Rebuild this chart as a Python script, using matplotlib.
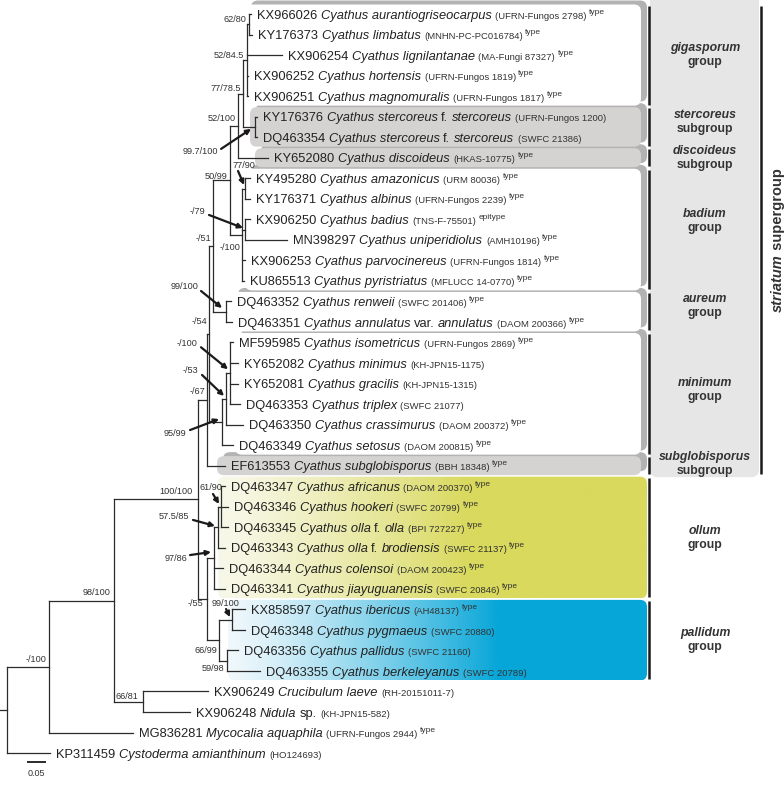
#!/usr/bin/python3
# -*- coding: utf-8 -*-

import numpy as np
import matplotlib
matplotlib.use("Agg")
import matplotlib.pyplot as plt
from matplotlib.patches import FancyBboxPatch
from matplotlib.collections import LineCollection
from matplotlib.colors import to_rgb

plt.rcParams["font.family"] = ["Liberation Sans", "DejaVu Sans"]

# ---------------- data ----------------
# tree (newick), branch lengths in subst./site, node labels = BI/ML support
gig = ("((KX966026:0.0053,KY176373:0.0079)62/80:0.0053,"
       "KX906254:0.0921,KX906252:0.0026,KX906251:0.0026)52/84.5:0.0105")
ste = "(KY176376:0.0053,DQ463354:0.0053)99.7/100:0.0316"
bad = ("((KY495280:0.0132,KY176371:0.0132)77/90:0.0079,"
       "(KX906250:0.0132,MN398297:0.1105)-/79:0.0079,"
       "KX906253:0.0079,KU865513:0.0053)-/100:0.0316")
aur = "(DQ463352:0.0132,DQ463351:0.0158)99/100:0.0342"
mnm = ("(((MF595985:0.0079,KY652082:0.0211,KY652081:0.0211,DQ463353:0.0263)-/100:0.0105,"
       "DQ463350:0.0447)-/53:0.0105,DQ463349:0.0289)95/99:0.0342")
oll = ("(((DQ463347:0.0105,DQ463346:0.0184,DQ463345:0.0184)61/90:0.0079,"
       "DQ463343:0.0184)57.5/85:0.0105,DQ463344:0.0237,DQ463341:0.0289)97/86:0.0184")
pal = ("((KX858597:0.0342,DQ463348:0.0342)99/100:0.0342,"
       "(DQ463356:0.0289,DQ463355:0.0868)59/98:0.0211)66/99:0.0316")
nid = "(KX906249:0.1711,KX906248:0.1237)66/81:0.0763"

striatum = ("((((((" + gig + "," + ste + ")77/78.5:0.0132,KY652080:0.0789)52/100:0.0211,"
            + bad + ")50/99:0.0447," + aur + ")-/51:0.0105," + mnm
            + ")-/54:0.0053,EF613553:0.0474)-/67:0.0237")
tree = ("((((" + striatum + ",(" + oll + "," + pal + ")-/55:0.0237)100/100:0.2211,"
        + nid + ")98/100:0.1711,MG836281:0.2211)-/100:0.1105,KP311459:0.1132);")

accessions = ["KX966026", "KY176373", "KX906254", "KX906252", "KX906251",
              "KY176376", "DQ463354", "KY652080", "KY495280", "KY176371",
              "KX906250", "MN398297", "KX906253", "KU865513", "DQ463352",
              "DQ463351", "MF595985", "KY652082", "KY652081", "DQ463353",
              "DQ463350", "DQ463349", "EF613553", "DQ463347", "DQ463346",
              "DQ463345", "DQ463343", "DQ463344", "DQ463341", "KX858597",
              "DQ463348", "DQ463356", "DQ463355", "KX906249", "KX906248",
              "MG836281", "KP311459"]
species = ["Cyathus aurantiogriseocarpus", "Cyathus limbatus", "Cyathus lignilantanae",
           "Cyathus hortensis", "Cyathus magnomuralis", "Cyathus stercoreus f. stercoreus",
           "Cyathus stercoreus f. stercoreus", "Cyathus discoideus", "Cyathus amazonicus",
           "Cyathus albinus", "Cyathus badius", "Cyathus uniperidiolus",
           "Cyathus parvocinereus", "Cyathus pyristriatus", "Cyathus renweii",
           "Cyathus annulatus var. annulatus", "Cyathus isometricus", "Cyathus minimus",
           "Cyathus gracilis", "Cyathus triplex", "Cyathus crassimurus", "Cyathus setosus",
           "Cyathus subglobisporus", "Cyathus africanus", "Cyathus hookeri",
           "Cyathus olla f. olla", "Cyathus olla f. brodiensis", "Cyathus colensoi",
           "Cyathus jiayuguanensis", "Cyathus ibericus", "Cyathus pygmaeus",
           "Cyathus pallidus", "Cyathus berkeleyanus", "Crucibulum laeve", "Nidula sp.",
           "Mycocalia aquaphila", "Cystoderma amianthinum"]
vouchers = ["(UFRN-Fungos 2798)", "(MNHN-PC-PC016784)", "(MA-Fungi 87327)",
            "(UFRN-Fungos 1819)", "(UFRN-Fungos 1817)", "(UFRN-Fungos 1200)",
            "(SWFC 21386)", "(HKAS-10775)", "(URM 80036)", "(UFRN-Fungos 2239)",
            "(TNS-F-75501)", "(AMH10196)", "(UFRN-Fungos 1814)", "(MFLUCC 14-0770)",
            "(SWFC 201406)", "(DAOM 200366)", "(UFRN-Fungos 2869)", "(KH-JPN15-1175)",
            "(KH-JPN15-1315)", "(SWFC 21077)", "(DAOM 200372)", "(DAOM 200815)",
            "(BBH 18348)", "(DAOM 200370)", "(SWFC 20799)", "(BPI 727227)",
            "(SWFC 21137)", "(DAOM 200423)", "(SWFC 20846)", "(AH48137)",
            "(SWFC 20880)", "(SWFC 21160)", "(SWFC 20789)", "(RH-20151011-7)",
            "(KH-JPN15-582)", "(UFRN-Fungos 2944)", "(HO124693)"]
status = ["type", "type", "type", "type", "type", "", "", "type", "type", "type",
          "epitype", "type", "type", "type", "type", "type", "type", "", "", "",
          "type", "type", "type", "type", "type", "type", "type", "type", "type",
          "type", "", "", "", "", "", "type", ""]

groups = ["gigasporum", "stercoreus", "discoideus", "badium", "aureum",
          "minimum", "subglobisporus", "ollum", "pallidum"]
ranks = ["group", "subgroup", "subgroup", "group", "group", "group",
         "subgroup", "group", "group"]
group_first = ["KX966026", "KY176376", "KY652080", "KY495280", "DQ463352",
               "MF595985", "EF613553", "DQ463347", "KX858597"]
group_last = ["KX906251", "DQ463354", "KY652080", "KU865513", "DQ463351",
              "DQ463349", "EF613553", "DQ463341", "DQ463355"]
n_in_striatum = 7
scale_value = 0.05

# ---------------- layout / style ----------------
PX = 380.0          # pixels per subst./site
X_ROOT = 7
TIP_Y0, TIP_STEP = 14, 20.53
TXT = "#222222"
LINE = "#2b2b2b"
SUB = "#d5d2d2"
box_left = [245, 250, 255, 245, 232, 235, 217, 218, 228]
box_fill = ["white", SUB, SUB, "white", "white", "white", SUB,
            ("#f8f8ea", "#d9d95d", 470), ("#f0f8fc", "#06a6d8", 500)]
glabel_dy = [0, -5, 0, -9, -6, -4, -2, 0, 0]

# support labels without arrow: (dx, dy) from node
plain_pos = {
    ("62/80", "KX966026"): (-3, -5), ("52/84.5", "KX966026"): (-3, -5),
    ("77/78.5", "KX966026"): (-2, -5.5), ("52/100", "KX966026"): (-2, -7.5),
    ("50/99", "KX966026"): (-3, -4), ("-/51", "KX966026"): (-2, -7),
    ("-/54", "KX966026"): (-2, -12), ("-/67", "KX966026"): (-2, -8),
    ("-/100", "KY495280"): (-2, 13), ("66/99", "KX858597"): (-2, 10),
    ("59/98", "DQ463356"): (-3, 8), ("-/55", "DQ463347"): (-4, 4),
    ("100/100", "KX966026"): (-5, -8), ("98/100", "KX966026"): (-4, -8),
    ("66/81", "KX906249"): (-5, -5), ("-/100", "KX966026"): (-3, -7),
}
# support labels with arrow: ha, label dx, dy, arrow start dx, dy, arrow end dx, dy
arrow_pos = {
    ("99.7/100", "KY176376"): ("right", -37, 25, -34, 22, -4, 2),
    ("77/90", "KY495280"): ("center", -1.5, -23.5, -7, -17.5, -1, -3.5),
    ("-/79", "KX906250"): ("right", -40, -17.6, -36, -14.6, -2, -1.6),
    ("99/100", "DQ463352"): ("right", -28, -24.7, -25, -20.7, -4, -3.7),
    ("-/100", "MF595985"): ("right", -33, -30, -29, -26, -2, -4),
    ("-/53", "MF595985"): ("right", -28, -28, -24, -24, -2, -3),
    ("95/99", "MF595985"): ("right", -36, 11, -32, 8, -3, -3),
    ("61/90", "DQ463347"): ("center", -10, -19.7, -8, -12.7, -2, -2.7),
    ("57.5/85", "DQ463347"): ("right", -29, -10.3, -25, -7.3, -3, -1.3),
    ("97/86", "DQ463347"): ("right", -27, 0, -24, -3, -3, -6),
    ("99/100", "KX858597"): ("center", -6, -16.6, -6, -10.6, -2, -2.6),
}


def parse_newick(s):
    pos = 0

    def node():
        nonlocal pos
        kids = []
        if s[pos] == "(":
            pos += 1
            while True:
                kids.append(node())
                if s[pos] == ",":
                    pos += 1
                    continue
                pos += 1
                break
        start = pos
        while s[pos] not in ":,);":
            pos += 1
        name = s[start:pos]
        length = 0.0
        if s[pos] == ":":
            pos += 1
            start = pos
            while s[pos] not in ",);":
                pos += 1
            length = float(s[start:pos])
        return {"name": name, "len": length, "kids": kids}

    return node()


def layout(nd, x0, tips):
    nd["x"] = x0 + nd["len"] * PX
    if not nd["kids"]:
        nd["y"] = TIP_Y0 + TIP_STEP * len(tips)
        nd["first"] = nd["name"]
        tips.append(nd)
        return
    for k in nd["kids"]:
        layout(k, nd["x"], tips)
    nd["y"] = (nd["kids"][0]["y"] + nd["kids"][-1]["y"]) / 2
    nd["first"] = nd["kids"][0]["first"]


def walk(nd):
    yield nd
    for k in nd["kids"]:
        yield from walk(k)


root = parse_newick(tree)
tips = []
layout(root, X_ROOT, tips)
tip_y = {t["name"]: t["y"] for t in tips}

fig = plt.figure(figsize=(7.84, 7.92), dpi=100)
ax = fig.add_axes([0, 0, 1, 1])
ax.set_axis_off()
renderer = fig.canvas.get_renderer()

# striatum band
ys0 = tip_y[group_first[0]] - 9.5
ys1 = tip_y[group_last[n_in_striatum - 1]] + 9.5
ax.add_patch(FancyBboxPatch((650, ys0 - 25), 109, ys1 + 2 - ys0 + 25,
                            boxstyle="round,pad=0,rounding_size=8",
                            fc="#e6e6e6", ec="none", zorder=0))

# clade boxes
for gi in range(len(groups)):
    y0 = tip_y[group_first[gi]] - 9.5
    y1 = tip_y[group_last[gi]] + 9.5
    x0 = box_left[gi]
    x1 = 641 if gi < n_in_striatum else 647
    if gi < n_in_striatum:
        ax.add_patch(FancyBboxPatch((x0 + 6, y0 - 4), x1 - x0, y1 - y0,
                                    boxstyle="round,pad=0,rounding_size=7",
                                    fc="#b3b3b3", ec="none", zorder=1))
for gi in range(len(groups)):
    y0 = tip_y[group_first[gi]] - 9.5
    y1 = tip_y[group_last[gi]] + 9.5
    x0 = box_left[gi]
    x1 = 641 if gi < n_in_striatum else 647
    fill = box_fill[gi]
    if isinstance(fill, tuple):
        p = FancyBboxPatch((x0, y0), x1 - x0, y1 - y0,
                           boxstyle="round,pad=0,rounding_size=7",
                           fc="none", ec="none", zorder=2)
        ax.add_patch(p)
        xs = np.linspace(x0, x1, 300)
        t = np.clip((xs - x0) / (fill[2] - x0), 0, 1) ** 1.25
        c0, c1 = np.array(to_rgb(fill[0])), np.array(to_rgb(fill[1]))
        grad = (c0[None, :] * (1 - t[:, None]) + c1[None, :] * t[:, None])[None, :, :]
        im = ax.imshow(grad, extent=(x0, x1, y1, y0), aspect="auto",
                       interpolation="bilinear", zorder=2)
        im.set_clip_path(p)
    else:
        ax.add_patch(FancyBboxPatch((x0, y0), x1 - x0, y1 - y0,
                                    boxstyle="round,pad=0,rounding_size=7",
                                    fc=fill, ec="none", zorder=2))
    # bar and group label
    ax.plot([649, 649], [y0 + 1, y1 - 1], color="#1a1a1a", lw=1.8,
            solid_capstyle="butt", zorder=3)
    yc = (y0 + y1) / 2 + glabel_dy[gi]
    ax.text(705, yc - 7, groups[gi], fontsize=8.8, fontweight="bold",
            style="italic", color="#333333", ha="center", va="center", zorder=4)
    ax.text(705, yc + 7, ranks[gi], fontsize=8.8, fontweight="bold",
            color="#333333", ha="center", va="center", zorder=4)

ax.plot([761, 761], [ys0 + 1, ys1 - 1], color="#1a1a1a", lw=1.8,
        solid_capstyle="butt", zorder=3)
# rotated supergroup label
t1 = ax.text(782, 0, "striatum", fontsize=10.5, fontweight="bold", style="italic",
             color="#333333", rotation=90, rotation_mode="anchor",
             ha="left", va="baseline", zorder=4)
t2 = ax.text(782, 0, " supergroup", fontsize=10.5, fontweight="bold",
             color="#333333", rotation=90, rotation_mode="anchor",
             ha="left", va="baseline", zorder=4)
h1 = t1.get_window_extent(renderer).height
h2 = t2.get_window_extent(renderer).height
ymid = (ys0 + ys1) / 2
t1.set_y(ymid + (h1 + h2) / 2)
t2.set_y(ymid + (h1 + h2) / 2 - h1)

# branches
segs = [[(0, root["y"]), (root["x"], root["y"])]]
for nd in walk(root):
    if nd["kids"]:
        segs.append([(nd["x"], nd["kids"][0]["y"]), (nd["x"], nd["kids"][-1]["y"])])
        for k in nd["kids"]:
            segs.append([(nd["x"], k["y"]), (k["x"], k["y"])])
ax.add_collection(LineCollection(segs, colors=LINE, linewidths=0.9,
                                 capstyle="projecting", zorder=5))

# support values
for nd in walk(root):
    if not nd["kids"] or not nd["name"]:
        continue
    key = (nd["name"], nd["first"])
    if key in arrow_pos:
        ha, dx, dy, sx, sy, ex, ey = arrow_pos[key]
        ax.text(nd["x"] + dx, nd["y"] + dy, nd["name"], fontsize=6.6, color="#333333",
                ha=ha, va="center", zorder=6)
        ax.annotate("", xy=(nd["x"] + ex, nd["y"] + ey),
                    xytext=(nd["x"] + sx, nd["y"] + sy),
                    arrowprops=dict(arrowstyle="-|>", lw=1.6, color="#1a1a1a",
                                    mutation_scale=7, shrinkA=0, shrinkB=0), zorder=6)
    else:
        dx, dy = plain_pos.get(key, (-3, -7))
        ax.text(nd["x"] + dx, nd["y"] + dy, nd["name"], fontsize=6.6, color="#333333",
                ha="right", va="center", zorder=6)


def put(x, y, s, size, style="normal", color=TXT):
    t = ax.text(x, y, s, fontsize=size, style=style, color=color,
                ha="left", va="baseline", zorder=6)
    return t.get_window_extent(renderer).width


UPRIGHT = {"f.", "var.", "sp."}
SP = 3.5
info = {a: (s, v, st) for a, s, v, st in zip(accessions, species, vouchers, status)}
for t in tips:
    sp_name, vch, st = info[t["name"]]
    x = t["x"] + 6
    base = t["y"] + 4.6
    x += put(x, base, t["name"], 9.3) + SP
    chunks = []
    for w in sp_name.split():
        it = w not in UPRIGHT
        if chunks and chunks[-1][1] == it:
            chunks[-1][0] += " " + w
        else:
            chunks.append([w, it])
    for txt, it in chunks:
        x += put(x, base, txt, 9.3, "italic" if it else "normal") + SP
    x += put(x, base, vch, 6.8, color="#333333")
    if st:
        put(x + 2.5, base - 5, st, 6.0, color="#333333")

# scale bar
ax.plot([27, 27 + scale_value * PX], [762, 762], color="#1a1a1a", lw=1.3,
        solid_capstyle="butt")
ax.text(27 + scale_value * PX / 2, 774, f"{scale_value:.2f}", fontsize=6.5,
        color="#333333", ha="center", va="center")

ax.set_xlim(0, 784)
ax.set_ylim(792, 0)
fig.savefig("out.png", dpi=100)
